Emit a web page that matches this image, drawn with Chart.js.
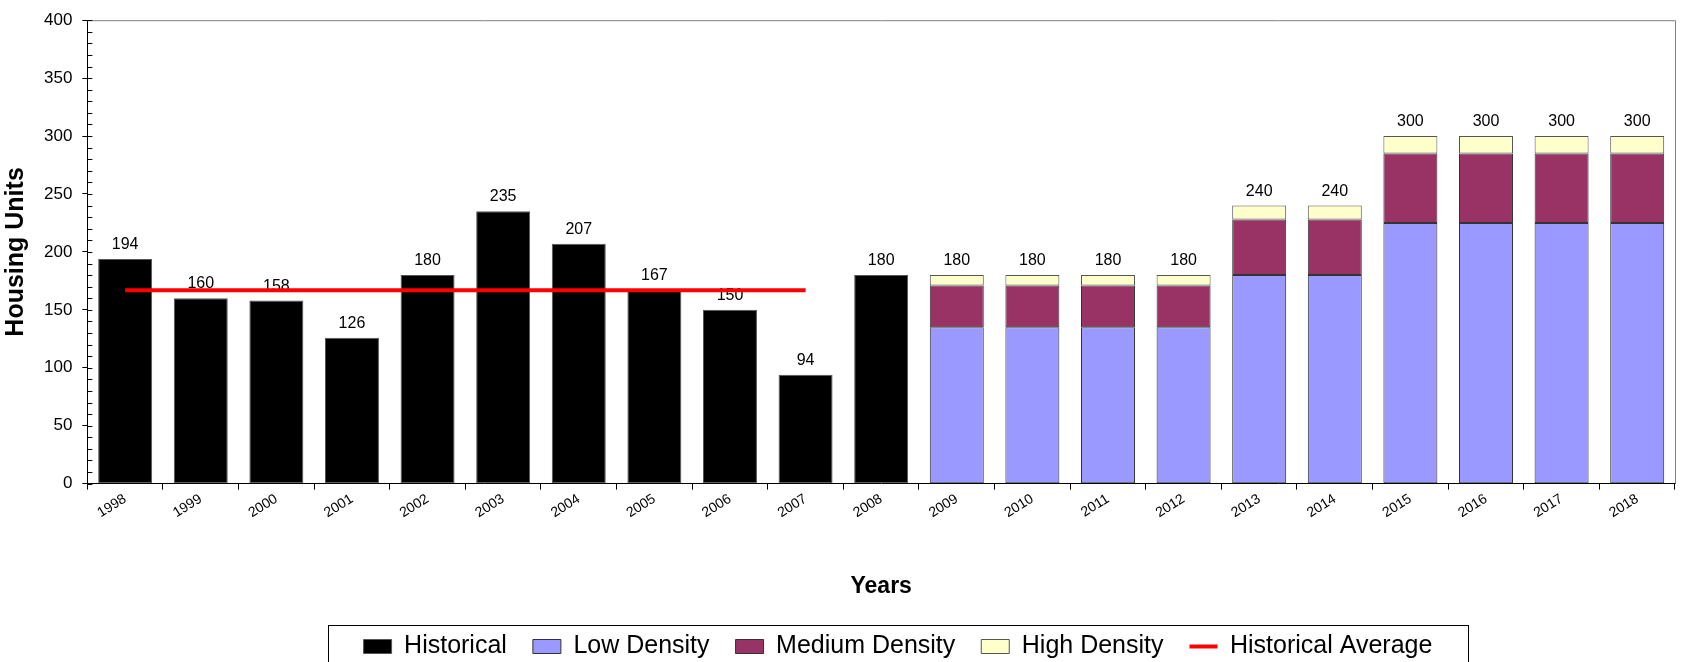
<!DOCTYPE html>
<html>
<head>
<meta charset="utf-8">
<script src="https://cdn.jsdelivr.net/npm/chart.js@4.4.1/dist/chart.umd.min.js"></script>
<style>
  html, body { margin: 0; padding: 0; background: #fff; }
  #wrap { width: 1683px; height: 662px; }
</style>
</head>
<body>
<div id="wrap"><canvas id="chart"></canvas></div>
<script>
const years = ['1998','1999','2000','2001','2002','2003','2004','2005','2006','2007','2008',
  '2009','2010','2011','2012','2013','2014','2015','2016','2017','2018']

const historical = [194,160,158,126,180,235,207,167,150,94,180,
  null,null,null,null,null,null,null,null,null,null]
const lowDensity = [null,null,null,null,null,null,null,null,null,null,null,
  135,135,135,135,180,180,225,225,225,225]
const mediumDensity = [null,null,null,null,null,null,null,null,null,null,null,
  36,36,36,36,48,48,60,60,60,60]
const highDensity = [null,null,null,null,null,null,null,null,null,null,null,
  9,9,9,9,12,12,15,15,15,15]
const historicalAverage = [167,167,167,167,167,167,167,167,167,167,
  null,null,null,null,null,null,null,null,null,null,null]

const yTicks = [0,50,100,150,200,250,300,350,400]

const FONT = "'Liberation Sans', Arial, sans-serif"

// totals printed above each column
const totalsPlugin = {
  id: 'totals',
  beforeDatasetsDraw(chart) {
    const ctx = chart.ctx
    const x = chart.scales.x, y = chart.scales.y
    ctx.save()
    ctx.font = '16px ' + FONT
    ctx.fillStyle = '#000'
    ctx.textAlign = 'center'
    ctx.textBaseline = 'alphabetic'
    years.forEach((yr, i) => {
      const total = (historical[i] || 0) + (lowDensity[i] || 0) + (mediumDensity[i] || 0) + (highDensity[i] || 0)
      ctx.fillText(String(total), x.getPixelForValue(i), y.getPixelForValue(total) - 10)
    })
    ctx.restore()
  }
}

// legend sits a little right of the canvas centre
const legendShift = {
  id: 'legendShift',
  afterLayout(chart) {
    const lg = chart.legend
    const dx = 898 - (lg.left + lg.right) / 2
    lg.left += dx
    lg.right += dx
  }
}

// plot frame, minor ticks on the value axis, box round the legend
const framePlugin = {
  id: 'frame',
  afterDraw(chart) {
    const ctx = chart.ctx
    const a = chart.chartArea
    const y = chart.scales.y
    ctx.save()
    ctx.strokeStyle = '#808080'
    ctx.lineWidth = 1
    ctx.beginPath()
    ctx.moveTo(a.left, a.top + 0.5)
    ctx.lineTo(a.right + 0.5, a.top + 0.5)
    ctx.lineTo(a.right + 0.5, a.bottom)
    ctx.stroke()

    ctx.strokeStyle = '#000'
    ctx.beginPath()
    for (let v = 0; v <= 400; v += 10) {
      const py = Math.round(y.getPixelForValue(v)) + 0.5
      ctx.moveTo(a.left, py)
      ctx.lineTo(a.left + 5, py)
    }
    ctx.stroke()

    const boxes = chart.legend.legendHitBoxes
    if (boxes && boxes.length) {
      const left = Math.min(...boxes.map(b => b.left)) - 36
      const right = Math.max(...boxes.map(b => b.left + b.width)) + 35
      const top = boxes[0].top - 9
      ctx.strokeStyle = '#000'
      ctx.strokeRect(Math.round(left) + 0.5, Math.round(top) + 0.5, Math.round(right - left), chart.height - top + 10)
    }
    ctx.restore()
  }
}

const barBase = {
  type: 'bar',
  borderWidth: 1,
  borderSkipped: false,
  pointStyle: 'rect',
  barPercentage: 0.714,
  categoryPercentage: 1.0,
  stack: 'units'
}

const data = {
  labels: years,
  datasets: [
    Object.assign({}, barBase, { label: 'Historical', data: historical, backgroundColor: '#000000', borderColor: '#555555' }),
    Object.assign({}, barBase, { label: 'Low Density', data: lowDensity, backgroundColor: '#9999FF', borderColor: '#333333' }),
    Object.assign({}, barBase, { label: 'Medium Density', data: mediumDensity, backgroundColor: '#993366', borderColor: '#333333' }),
    Object.assign({}, barBase, { label: 'High Density', data: highDensity, backgroundColor: '#FFFFCC', borderColor: '#555555' }),
    {
      type: 'line',
      label: 'Historical Average',
      data: historicalAverage,
      borderColor: '#FF0000',
      backgroundColor: '#FF0000',
      borderWidth: 4,
      pointRadius: 0,
      pointStyle: 'line',
      stack: 'avg',
      order: -1
    }
  ]
}

const config = {
  type: 'bar',
  data: data,
  options: {
    responsive: true,
    maintainAspectRatio: false,
    animation: false,
    layout: { padding: { left: 1, right: 8, top: 16, bottom: -7 } },
    plugins: {
      tooltip: { enabled: false },
      legend: {
        position: 'bottom',
        labels: {
          usePointStyle: true,
          pointStyleWidth: 28,
          boxWidth: 28,
          boxHeight: 14,
          padding: 26,
          color: '#000',
          font: { family: FONT, size: 25 },
          sort: (a, b) => a.datasetIndex - b.datasetIndex
        }
      }
    },
    scales: {
      x: {
        stacked: true,
        offset: true,
        grid: { display: true, offset: true, drawOnChartArea: false, color: '#000', tickLength: 6 },
        border: { color: '#000', width: 1 },
        ticks: { color: '#000', font: { family: FONT, size: 14 }, minRotation: 32, maxRotation: 32, padding: 1 },
        title: { display: true, text: 'Years', color: '#000', font: { family: FONT, size: 23, weight: 'bold' }, padding: { top: 50, bottom: 8 } }
      },
      y: {
        stacked: true,
        min: 0,
        max: 400,
        afterBuildTicks: (scale) => { scale.ticks = yTicks.map(v => ({ value: v })) },
        grid: { display: true, drawOnChartArea: false, color: '#000', tickLength: 5 },
        border: { color: '#000', width: 1 },
        ticks: { color: '#000', font: { family: FONT, size: 17 }, padding: 10 },
        title: { display: true, text: 'Housing Units', color: '#000', font: { family: FONT, size: 25, weight: 'bold' }, padding: { top: 0, bottom: 3 } }
      }
    }
  },
  plugins: [totalsPlugin, legendShift, framePlugin]
}

const myChart = new Chart(document.getElementById('chart'), config)
</script>
</body>
</html>
